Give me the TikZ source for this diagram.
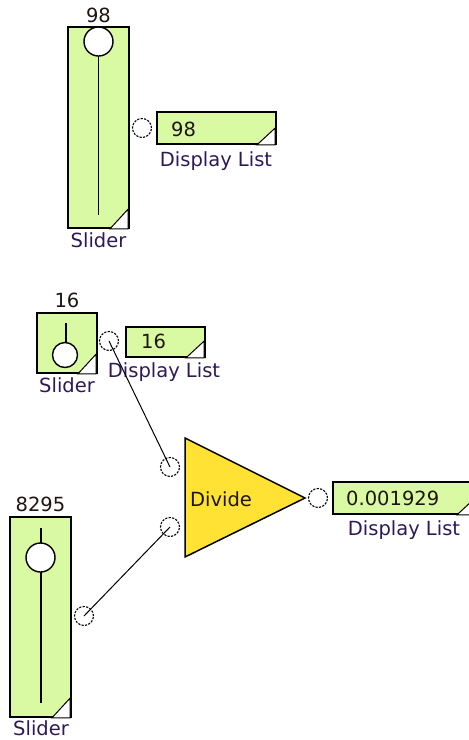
\documentclass[tikz,border=0pt]{standalone}
\usepackage{fontspec}
\setmainfont{DejaVu Sans}
\definecolor{blkgreen}{RGB}{217,250,163}
\definecolor{divyellow}{RGB}{255,226,52}
\definecolor{lblcol}{RGB}{45,25,85}
\definecolor{valcol}{RGB}{30,20,20}
\tikzset{
  box/.style={draw=black,line width=1.7pt,fill=blkgreen,inner sep=0pt,outer sep=0pt,rectangle},
  port/.style={circle,draw=black,line width=1.1pt,dash pattern=on 2.2pt off 1.3pt,minimum size=19pt,inner sep=0pt},
  thumb/.style={circle,draw=black,line width=1.4pt,fill=white,inner sep=0pt},
  lbl/.style={font=\fontsize{19.5}{22}\selectfont,text=lblcol,inner sep=0pt,anchor=base},
  val/.style={font=\fontsize{19.5}{22}\selectfont,text=valcol,inner sep=0pt,anchor=base},
  wire/.style={draw=black,line width=1pt},
  track/.style={line width=1.8pt},
  corner/.style={fill=white,draw=black,line width=1pt}
}
\begin{document}
\begin{tikzpicture}[x=1pt,y=-1pt]
\useasboundingbox (0,0) rectangle (469,740);
% ---------- Slider 1 ----------
\node[box,minimum width=61pt,minimum height=201pt] (s1) at (98.5,127.5) {};
\filldraw[corner] ([xshift=-19pt,yshift=-0.8pt]s1.south east) -- ([xshift=-0.8pt,yshift=19pt]s1.south east) -- ([xshift=-0.8pt,yshift=-0.8pt]s1.south east) -- cycle;
\draw[track] (98.5,56) -- (98.5,215);
\node[thumb,minimum size=29pt] (t1) at (98.5,41.5) {};
\node[val,anchor=base] (v1) at (98.5,22.5) {98};
\node[lbl] (l1) at (98.5,247) {Slider};
\node[port] (p1) at (142,128) {};
% Display 1
\node[box,minimum width=119pt,minimum height=32pt] (d1) at (216.5,128) {};
\filldraw[corner] ([xshift=-19pt,yshift=-0.8pt]d1.south east) -- ([xshift=-0.8pt,yshift=16pt]d1.south east) -- ([xshift=-0.8pt,yshift=-0.8pt]d1.south east) -- cycle;
\node[val,anchor=base west] (dv1) at (171,136) {98};
\node[lbl] (dl1) at (216,166) {Display List};
% ---------- Slider 2 ----------
\node[box,minimum width=60pt,minimum height=60pt] (s2) at (67,343) {};
\filldraw[corner] ([xshift=-19pt,yshift=-0.8pt]s2.south east) -- ([xshift=-0.8pt,yshift=19pt]s2.south east) -- ([xshift=-0.8pt,yshift=-0.8pt]s2.south east) -- cycle;
\draw[track] (66,323) -- (66,342);
\node[thumb,minimum size=25pt] (t2) at (65,355) {};
\node[val] (v2) at (67,307) {16};
\node[lbl] (l2) at (67,392) {Slider};
\node[port] (p2) at (109,341) {};
% Display 2
\node[box,minimum width=79pt,minimum height=30pt] (d2) at (165.5,342) {};
\filldraw[corner] ([xshift=-19pt,yshift=-0.8pt]d2.south east) -- ([xshift=-0.8pt,yshift=16pt]d2.south east) -- ([xshift=-0.8pt,yshift=-0.8pt]d2.south east) -- cycle;
\node[val,anchor=base west] (dv2) at (141,348) {16};
\node[lbl] (dl2) at (164,377) {Display List};
% ---------- Divide ----------
\filldraw[fill=divyellow,draw=black,line width=1.5pt] (185,438) -- (305,498) -- (185,557) -- cycle;
\node[val,anchor=base west] (div) at (190,506) {Divide};
\node[port] (i1) at (170,467) {};
\node[port] (i2) at (170,527) {};
\node[port] (o1) at (318,498) {};
% Display 3
\node[box,minimum width=143pt,minimum height=32pt] (d3) at (404.5,498) {};
\filldraw[corner] ([xshift=-19pt,yshift=-0.8pt]d3.south east) -- ([xshift=-0.8pt,yshift=16pt]d3.south east) -- ([xshift=-0.8pt,yshift=-0.8pt]d3.south east) -- cycle;
\node[val,anchor=base west] (dv3) at (346,505) {0.001929};
\node[lbl] (dl3) at (404,535) {Display List};
% ---------- Slider 3 ----------
\node[box,minimum width=61pt,minimum height=200pt] (s3) at (40.5,617) {};
\filldraw[corner] ([xshift=-19pt,yshift=-0.8pt]s3.south east) -- ([xshift=-0.8pt,yshift=19pt]s3.south east) -- ([xshift=-0.8pt,yshift=-0.8pt]s3.south east) -- cycle;
\draw[track] (41,528) -- (41,703);
\node[thumb,minimum size=29pt] (t3) at (40.5,557.5) {};
\node[val] (v3) at (40.5,511) {8295};
\node[lbl] (l3) at (41,735) {Slider};
\node[port] (p3) at (84,616) {};
% ---------- Wires ----------
\draw[wire] (p2.center) -- (i1.center);
\draw[wire] (p3.center) -- (i2.center);
\end{tikzpicture}
\end{document}
